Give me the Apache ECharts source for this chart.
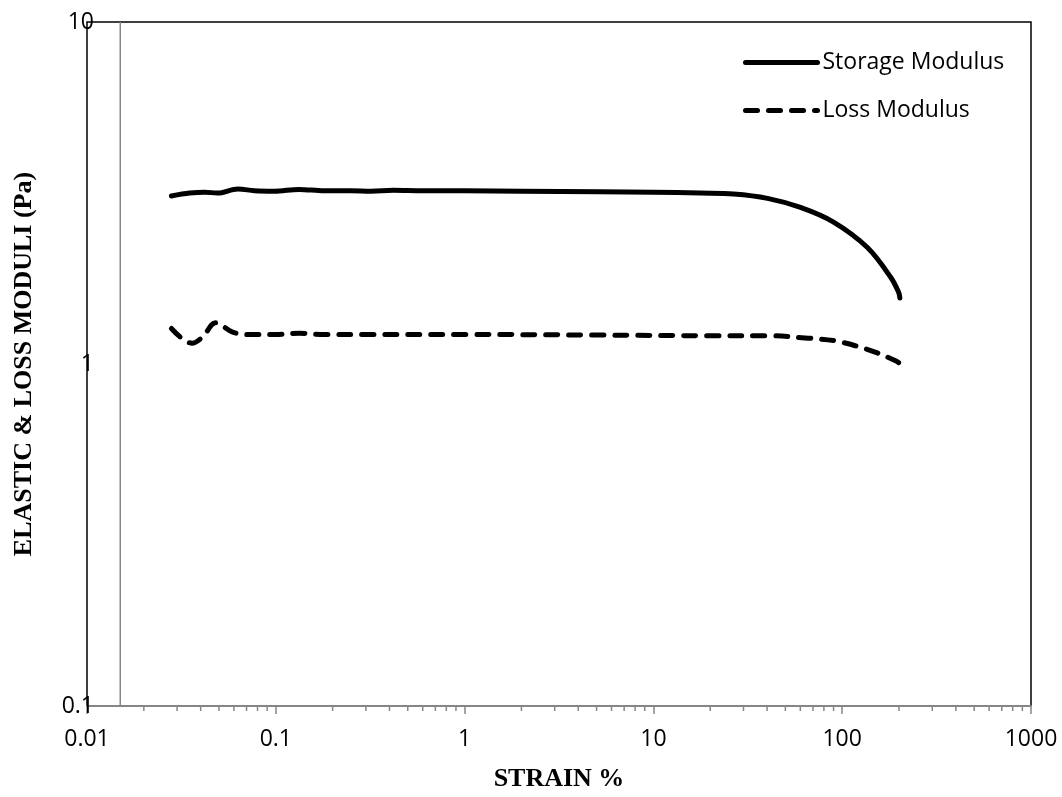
<!DOCTYPE html>
<html>
<head>
<meta charset="utf-8">
<title>Strain sweep</title>
<script src="https://cdn.jsdelivr.net/npm/echarts@6/dist/echarts.min.js"></script>
<style>
  html, body { margin: 0; padding: 0; background: #fff; }
  #chart { width: 1062px; height: 797px; }
</style>
</head>
<body>
<div id="chart"></div>
<script>
// Amplitude sweep: storage (G') and loss (G'') moduli against strain
const storageStrain = [0.028, 0.035, 0.042, 0.049, 0.063, 0.077, 0.098, 0.133, 0.18, 0.25, 0.32, 0.42, 0.6, 1.0, 2.0, 5.2, 10, 17.7, 26.6, 40.2, 60.1, 90, 136, 181, 199, 202];
const storageModulus = [3.10, 3.16, 3.18, 3.16, 3.25, 3.21, 3.20, 3.24, 3.21, 3.21, 3.20, 3.22, 3.21, 3.21, 3.20, 3.19, 3.18, 3.16, 3.14, 3.05, 2.87, 2.60, 2.19, 1.79, 1.62, 1.56];

const lossStrain = [0.028, 0.036, 0.041, 0.048, 0.059, 0.072, 0.10, 0.133, 0.18, 0.3, 1.0, 5.0, 20, 40, 66, 91, 118, 152, 193, 204];
const lossModulus = [1.27, 1.15, 1.20, 1.32, 1.24, 1.22, 1.22, 1.23, 1.22, 1.22, 1.22, 1.215, 1.21, 1.21, 1.19, 1.17, 1.13, 1.08, 1.02, 1.00];

const xTickLabels = ['0.01', '0.1', '1', '10', '100', '1000'];
const yTickLabels = ['0.1', '1', '10'];
// strain at which the vertical (modulus) axis crosses the strain axis
const axisCrossX = 0.015;

// minor tick positions on the log strain axis (2..9 in each decade)
const minorTicks = [];
for (let e = -2; e <= 2; e++) {
  for (let m = 2; m <= 9; m++) minorTicks.push([m * Math.pow(10, e), 0.1]);
}

const pair = (xs, ys) => xs.map((x, i) => [x, ys[i]]);
const labelFrom = (list, minExp) => v => {
  const k = Math.round(Math.log10(v)) - minExp;
  return list[k] !== undefined ? list[k] : '';
};

const tickFont = { fontFamily: 'Open Sans', fontSize: 23, color: '#000' };
const titleFont = { fontFamily: 'Liberation Serif', fontSize: 26, fontWeight: 'bold', color: '#000' };

const chart = echarts.init(document.getElementById('chart'), null, { renderer: 'canvas' });
chart.setOption({
  animation: false,
  backgroundColor: '#fff',
  grid: {
    left: 87, right: 31, top: 22, bottom: 90,
    show: true, borderColor: '#000', borderWidth: 1.5, backgroundColor: 'transparent'
  },
  legend: {
    orient: 'vertical',
    left: 743, top: 51, padding: 0,
    itemWidth: 72, itemHeight: 20, itemGap: 25,
    itemStyle: { opacity: 0 },
    lineStyle: { width: 5, cap: 'round' },
    textStyle: { fontFamily: 'Open Sans', fontSize: 23, color: '#000' },
    data: ['Storage Modulus', 'Loss Modulus']
  },
  xAxis: {
    type: 'log', logBase: 10, min: 0.01, max: 1000, interval: 1,
    name: 'STRAIN %', nameLocation: 'middle', nameGap: 60,
    nameTextStyle: titleFont,
    axisLine: { lineStyle: { color: '#868686', width: 2 } },
    axisTick: { show: true, length: 8, lineStyle: { color: '#868686', width: 1.5 } },
    splitLine: { show: false },
    axisLabel: Object.assign({ margin: 22, formatter: labelFrom(xTickLabels, -2) }, tickFont)
  },
  yAxis: {
    type: 'log', logBase: 10, min: 0.1, max: 10, interval: 1,
    name: 'ELASTIC & LOSS MODULI (Pa)', nameLocation: 'middle', nameGap: 50,
    nameTextStyle: titleFont,
    axisLine: { show: false },
    axisTick: { show: false },
    splitLine: { show: false },
    axisLabel: Object.assign({ margin: -7, formatter: labelFrom(yTickLabels, -1) }, tickFont)
  },
  series: [
    {
      name: 'axis cross',
      type: 'line',
      data: [[axisCrossX, 0.1], [axisCrossX, 10]],
      symbol: 'none',
      silent: true,
      lineStyle: { color: '#868686', width: 1.5 },
      z: 1
    },
    {
      name: 'Storage Modulus',
      type: 'line',
      data: pair(storageStrain, storageModulus),
      symbol: 'none',
      smooth: 0.35,
      lineStyle: { color: '#000', width: 5, cap: 'round', join: 'round' },
      itemStyle: { color: '#000' },
      z: 3
    },
    {
      name: 'Loss Modulus',
      type: 'line',
      data: pair(lossStrain, lossModulus),
      symbol: 'none',
      smooth: 0.35,
      lineStyle: { color: '#000', width: 5, type: [12, 11], cap: 'round', join: 'round' },
      itemStyle: { color: '#000' },
      z: 3
    },
    {
      name: 'minor ticks',
      type: 'custom',
      silent: true,
      clip: false,
      data: minorTicks,
      renderItem: (params, api) => {
        const p = api.coord([api.value(0), api.value(1)]);
        return {
          type: 'line',
          shape: { x1: p[0], y1: p[1], x2: p[0], y2: p[1] + 5 },
          style: { stroke: '#868686', lineWidth: 1.5 }
        };
      },
      z: 1
    }
  ]
});
</script>
</body>
</html>
